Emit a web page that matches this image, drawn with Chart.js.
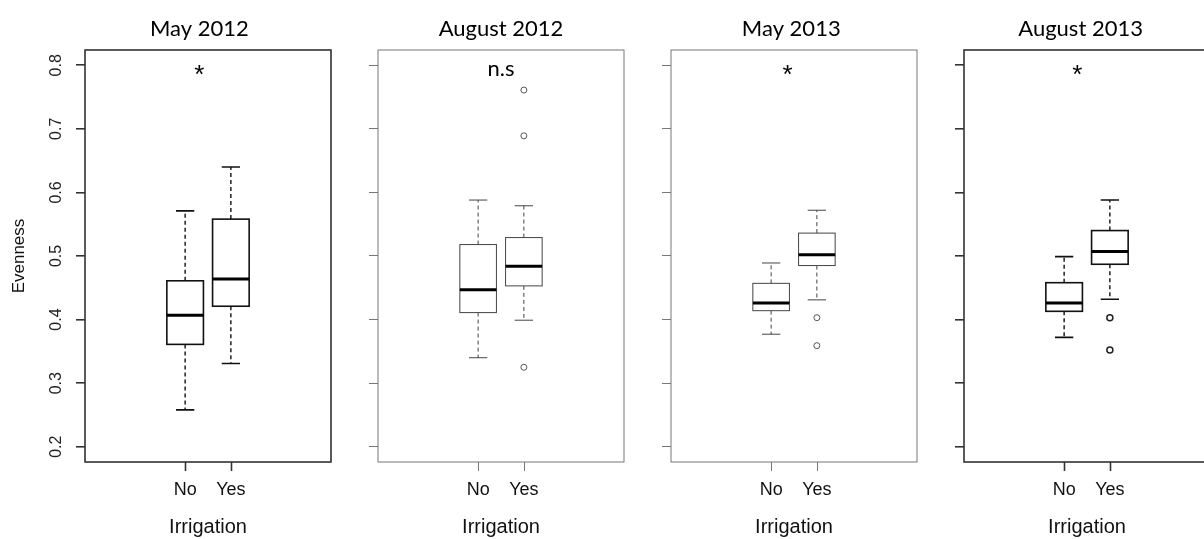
<!DOCTYPE html>
<html><head><meta charset="utf-8">
<script src="https://cdn.jsdelivr.net/npm/chart.js@4.4.1/dist/chart.umd.min.js"></script>
<style>
html,body{margin:0;padding:0;background:#fff;overflow:hidden;width:1204px;height:539px;}
#wrap{position:relative;width:1204px;height:539px;overflow:hidden;background:#fff;}
canvas{position:absolute;top:0;}
</style></head><body><div id="wrap">
<canvas id="c0" width="340" height="539"></canvas>
<canvas id="c1" width="340" height="539"></canvas>
<canvas id="c2" width="340" height="539"></canvas>
<canvas id="c3" width="340" height="539"></canvas>
</div>
<script>
// ---- data ----
const panelTitles = ["May 2012", "August 2012", "May 2013", "August 2013"];
const groups = ["No", "Yes"];
const groupPos = [1, 2];
const yTicks = [0.2, 0.3, 0.4, 0.5, 0.6, 0.7, 0.8];
const yTickLabels = ["0.2", "0.3", "0.4", "0.5", "0.6", "0.7", "0.8"];
// [lower whisker, Q1, median, Q3, upper whisker]
const noStats = [
  [0.258, 0.361, 0.407, 0.461, 0.571],
  [0.340, 0.411, 0.447, 0.518, 0.588],
  [0.377, 0.414, 0.426, 0.457, 0.489],
  [0.372, 0.413, 0.426, 0.458, 0.499]
];
const yesStats = [
  [0.331, 0.421, 0.464, 0.558, 0.640],
  [0.399, 0.453, 0.484, 0.529, 0.579],
  [0.431, 0.485, 0.502, 0.536, 0.572],
  [0.432, 0.487, 0.507, 0.540, 0.588]
];
const noOutliers = [[], [], [], []];
const yesOutliers = [[], [0.761, 0.689, 0.325], [0.403, 0.359], [0.403, 0.352]];
const signifText = ["*", "n.s", "*", "*"];
const signifX = [1.31, 1.5, 1.36, 1.29];
const signifY = [0.789, 0.783, 0.789, 0.789];
const titleX = [1.31, 1.5, 1.44, 1.36];

// ---- layout / style ----
const canvasLeft = [0, 293, 586, 879];
const xRange = [-1.19, 4.19];
const yRange = [0.176, 0.824];
const styles = [
  {frame: "#333", fw: 1.6, box: "#111", bw: 1.6, wk: 1.4, med: 3, pt: "#222", pw: 1.2},
  {frame: "#777", fw: 1, box: "#444", bw: 1, wk: 1, med: 3, pt: "#555", pw: 1},
  {frame: "#777", fw: 1, box: "#444", bw: 1, wk: 1, med: 3, pt: "#555", pw: 1},
  {frame: "#333", fw: 1.6, box: "#111", bw: 1.6, wk: 1.4, med: 3, pt: "#222", pw: 1.5}
];

const boxPlugin = {
  id: "boxplot",
  afterDatasetsDraw(chart, args, opts) {
    const i = opts.idx, st = styles[i];
    const {ctx, scales: {x, y}} = chart;
    const all = [noStats[i], yesStats[i]];
    ctx.save();
    all.forEach((s, g) => {
      const xc = x.getPixelForValue(groupPos[g]);
      const hw = x.getPixelForValue(groupPos[g] + 0.4) - xc;
      const cw = x.getPixelForValue(groupPos[g] + 0.2) - xc;
      const [lo, q1, md, q3, hi] = s.map(v => y.getPixelForValue(v));
      ctx.strokeStyle = st.box;
      ctx.lineWidth = st.wk;
      ctx.setLineDash([4, 3]);
      ctx.beginPath();
      ctx.moveTo(xc, q3); ctx.lineTo(xc, hi);
      ctx.moveTo(xc, q1); ctx.lineTo(xc, lo);
      ctx.stroke();
      ctx.setLineDash([]);
      ctx.lineWidth = st.bw;
      ctx.beginPath();
      ctx.moveTo(xc - cw, hi); ctx.lineTo(xc + cw, hi);
      ctx.moveTo(xc - cw, lo); ctx.lineTo(xc + cw, lo);
      ctx.stroke();
      ctx.fillStyle = "#fff";
      ctx.fillRect(xc - hw, q3, 2 * hw, q1 - q3);
      ctx.strokeRect(xc - hw, q3, 2 * hw, q1 - q3);
      ctx.strokeStyle = "#000";
      ctx.lineWidth = st.med;
      ctx.beginPath();
      ctx.moveTo(xc - hw, md); ctx.lineTo(xc + hw, md);
      ctx.stroke();
    });
    ctx.restore();
  },
  afterDraw(chart, args, opts) {
    const i = opts.idx, st = styles[i];
    const {ctx, chartArea: a, scales: {x, y}} = chart;
    ctx.save();
    ctx.strokeStyle = st.frame;
    ctx.lineWidth = st.fw;
    ctx.strokeRect(a.left, a.top, a.right - a.left, a.bottom - a.top);
    // x tick marks below the axis
    ctx.beginPath();
    groupPos.forEach(v => {
      const px = Math.round(x.getPixelForValue(v)) + 0.5;
      ctx.moveTo(px, a.bottom); ctx.lineTo(px, a.bottom + 9);
    });
    ctx.stroke();
    ctx.fillStyle = "#000";
    ctx.textAlign = "center";
    ctx.textBaseline = "alphabetic";
    ctx.font = "22px Lato";
    ctx.fillText(panelTitles[i], x.getPixelForValue(titleX[i]), 35.5);
    if (signifText[i] === "*") {
      ctx.font = "26px 'Liberation Sans'";
      ctx.textBaseline = "middle";
      ctx.fillText("*", x.getPixelForValue(signifX[i]), y.getPixelForValue(signifY[i]) + 4);
    } else {
      ctx.font = "22px Lato";
      ctx.textBaseline = "alphabetic";
      ctx.fillText(signifText[i], x.getPixelForValue(signifX[i]), y.getPixelForValue(signifY[i]));
    }
    ctx.restore();
  }
};

panelTitles.forEach((t, i) => {
  const st = styles[i];
  const cv = document.getElementById("c" + i);
  cv.style.left = canvasLeft[i] + "px";
  const pts = [];
  noOutliers[i].forEach(v => pts.push({x: groupPos[0], y: v}));
  yesOutliers[i].forEach(v => pts.push({x: groupPos[1], y: v}));
  new Chart(cv, {
    type: "scatter",
    data: {datasets: [{
      data: pts, pointStyle: "circle", pointRadius: 3, pointHoverRadius: 3,
      borderColor: st.pt, backgroundColor: "rgba(0,0,0,0)", borderWidth: st.pw
    }]},
    options: {
      responsive: false, animation: false, events: [],
      layout: {padding: {top: 50, right: 9, left: 0, bottom: 0}},
      plugins: {legend: {display: false}, tooltip: {enabled: false}, boxplot: {idx: i}},
      scales: {
        x: {
          type: "linear", min: xRange[0], max: xRange[1],
          afterBuildTicks: s => { s.ticks = groupPos.map(v => ({value: v})); },
          afterFit: s => { s.height = 77; },
          border: {display: false},
          grid: {display: false, drawOnChartArea: false, drawTicks: true, tickLength: 9},
          ticks: {
            autoSkip: false, maxRotation: 0, minRotation: 0, padding: 8,
            color: "#111", font: {family: "'Liberation Sans'", size: 18},
            callback: v => groups[groupPos.indexOf(v)]
          },
          title: {display: true, text: "Irrigation", color: "#111",
            font: {family: "'Liberation Sans'", size: 20}, padding: {top: 0, bottom: 0}}
        },
        y: {
          type: "linear", min: yRange[0], max: yRange[1],
          afterBuildTicks: s => { s.ticks = yTicks.map(v => ({value: v})); },
          afterFit: s => { s.width = 85; },
          border: {display: false},
          grid: {display: true, drawOnChartArea: false, drawTicks: true, tickLength: 9, color: st.frame, lineWidth: st.fw},
          ticks: {
            display: i === 0, minRotation: 90, maxRotation: 90, crossAlign: "center", padding: 8,
            color: "#222", font: {family: "'Liberation Sans'", size: 16},
            callback: (v, k) => yTickLabels[k]
          },
          title: {display: i === 0, text: "Evenness", color: "#111",
            font: {family: "'Liberation Sans'", size: 17}, padding: {top: 9, bottom: 0}}
        }
      }
    },
    plugins: [boxPlugin]
  });
});
</script>
</body></html>
